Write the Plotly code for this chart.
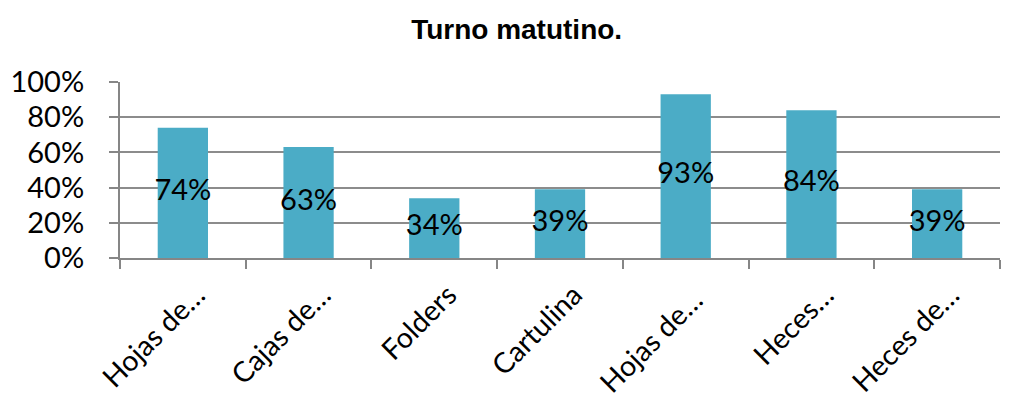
import plotly.graph_objects as go

categories = ["Hojas de…", "Cajas de…", "Folders", "Cartulina", "Hojas de… ", "Heces…", "Heces de…"]
values = [0.74, 0.63, 0.34, 0.39, 0.93, 0.84, 0.39]
labels = ["74%", "63%", "34%", "39%", "93%", "84%", "39%"]
y_ticks = [0, 0.2, 0.4, 0.6, 0.8, 1.0]
y_tick_text = ["0%", "20%", "40%", "60%", "80%", "100%"]

FONT = "Lato, Noto Sans, sans-serif"

fig = go.Figure()
fig.add_trace(go.Bar(x=categories, y=values, marker=dict(color="#4BACC6", line=dict(width=0)),
                     width=0.4, hoverinfo="skip"))
fig.add_trace(go.Scatter(x=categories, y=[v / 2 for v in values], mode="text", text=labels,
                         textfont=dict(family=FONT, size=29, color="black"),
                         textposition="middle center",
                         hoverinfo="skip"))

fig.update_layout(
    width=1013, height=402,
    margin=dict(l=120, r=13, t=82, b=144, autoexpand=False),
    paper_bgcolor="white", plot_bgcolor="white",
    showlegend=False,
    title=dict(text="<b>Turno matutino.</b>", x=0.51, xanchor="center", y=1 - 29 / 402, yanchor="middle",
               yref="container", automargin=False,
               font=dict(family="Liberation Sans, Arial, sans-serif", size=28, color="black")),
    font=dict(family=FONT, color="black"),
)
fig.update_xaxes(
    type="category", showgrid=False, showline=True, linecolor="#868686", linewidth=2,
    ticks="outside", tickson="boundaries", ticklen=9, tickcolor="#868686", tickwidth=2,
    tickangle=-45, tickfont=dict(size=28.5, family=FONT),
    ticklabelshift=14, ticklabelstandoff=7,
    range=[-0.5, 6.5], automargin=False,
)
fig.update_yaxes(
    range=[0, 1.0], tickvals=y_ticks, ticktext=y_tick_text,
    showgrid=True, gridcolor="#8c8c8c", gridwidth=2,
    showline=True, linecolor="#868686", linewidth=2,
    ticks="outside", ticklen=9, tickcolor="#868686", tickwidth=2,
    ticklabelstandoff=19,
    tickfont=dict(size=29, family=FONT), zeroline=False, automargin=False,
)
fig.write_html("out.html", config={"displayModeBar": False},
               post_script="document.body.style.margin='0';")
